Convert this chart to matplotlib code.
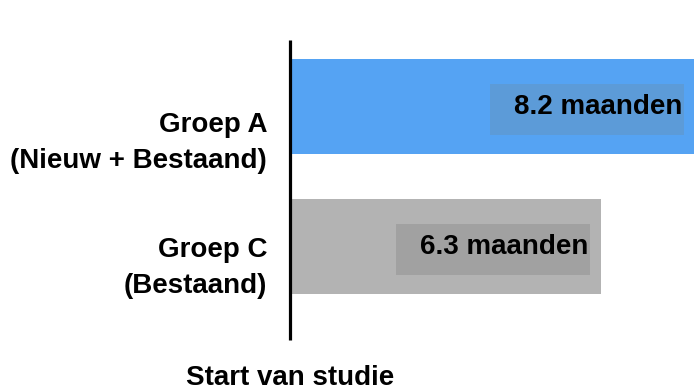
import matplotlib
matplotlib.use("Agg")
import matplotlib.pyplot as plt
from matplotlib.patches import Rectangle

# data
groups = ["Groep A\n(Nieuw + Bestaand)", "Groep C\n(Bestaand)"]
values = [8.2, 6.3]
value_labels = ["8.2 maanden", "6.3 maanden"]
bar_colors = ["#55A3F3", "#B3B3B3"]
box_colors = ["#5C9BD8", "#A1A1A1"]
axis_label = "Start van studie"

plt.rcParams['font.family'] = ['Liberation Sans', 'DejaVu Sans']

fig = plt.figure(figsize=(6.94, 3.92), dpi=100)
ax = fig.add_axes([0, 0, 1, 1])
px = 49.4  # pixels per unit on x
W, H = 694, 392
ypx = 139.5
x0 = -290 / px
ax.set_xlim(x0, x0 + W / px)
ytop = -106.5 / ypx
ax.set_ylim(ytop + H / ypx, ytop)
ax.axis('off')

pos = list(range(len(values)))
ax.barh(pos, values, height=95 / ypx, color=bar_colors, zorder=1)

inset = 13 / px
box_w = 194 / px
box_h = 51 / ypx
for i, v in enumerate(values):
    right = v - inset
    ax.add_patch(Rectangle((right + 2 / px - box_w, i + 3 / ypx - box_h / 2), box_w, box_h,
                           facecolor=box_colors[i], edgecolor='none', zorder=2))
    ax.text(right, i + 1 / ypx, value_labels[i], ha='right', va='center', fontsize=20,
            fontweight='bold', color='black', zorder=3)

label_offsets = [0.265, 0.16]
for i, g in enumerate(groups):
    ax.text(-23 / px, i + label_offsets[i], g, ha='right', va='center', fontsize=20,
            fontweight='bold', color='black', linespacing=1.5, multialignment='right')

ax.vlines(0, ytop + 40 / ypx, ytop + 340 / ypx, color='black', linewidth=2.3, zorder=4)
ax.text(0, ytop + 385 / ypx, axis_label, ha='center', va='baseline', fontsize=20,
        fontweight='bold', color='black')

fig.savefig("out.png", dpi=100)
